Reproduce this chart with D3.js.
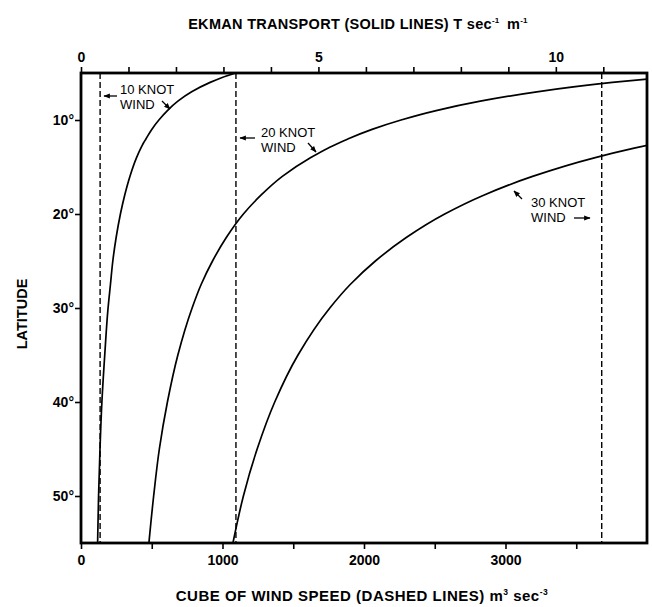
<!DOCTYPE html>
<html>
<head>
<meta charset="utf-8">
<script src="https://cdn.jsdelivr.net/npm/d3@7"></script>
<style>
  body { margin: 0; background: #fff; }
  svg { display: block; }
  text { font-family: "Liberation Sans", Arial, Helvetica, sans-serif; fill: #000; }
</style>
</head>
<body>
<svg id="chart" width="652" height="607"></svg>
<script>
// ---- data ----
const latitudes   = [5, 5.5, 6, 7, 8, 9, 10, 11, 12, 12.5, 13, 14, 16, 18, 20, 22.5, 25, 27.5, 30, 35, 40, 45, 50, 55];
const transport10 = [3.26, 2.96, 2.72, 2.33, 2.04, 1.82, 1.64, 1.49, 1.37, 1.31, 1.26, 1.17, 1.03, 0.92, 0.83, 0.74, 0.67, 0.62, 0.57, 0.50, 0.44, 0.40, 0.37, 0.35];
const transport20 = [null, 12.21, 11.19, 9.60, 8.41, 7.48, 6.74, 6.13, 5.63, 5.41, 5.20, 4.84, 4.24, 3.79, 3.42, 3.06, 2.77, 2.53, 2.34, 2.04, 1.82, 1.65, 1.53, 1.43];
const transport30 = [null, null, null, null, null, null, null, null, null, 12.10, 11.65, 10.83, 9.51, 8.48, 7.66, 6.85, 6.20, 5.67, 5.24, 4.57, 4.08, 3.71, 3.42, 3.20];
const windCubes   = [135, 1095, 3680];          // 10, 20, 30 knot winds (m^3 sec^-3)
const latTicks    = [10, 20, 30, 40, 50];
const topTicks    = [0, 1, 2, 3, 4, 5, 6, 7, 8, 9, 10, 11];
const topLabels   = [0, 5, 10];
const bottomTicks = [0, 500, 1000, 1500, 2000, 2500, 3000, 3500];
const bottomLabels = [0, 1000, 2000, 3000];

// ---- layout ----
const L = 81, R = 647, T = 73, B = 543;
const svg = d3.select("#chart");

const xTop = d3.scaleLinear().domain([0, 11.92]).range([L, R]);
const xBot = d3.scaleLinear().domain([0, 4000]).range([L, R]);
const y = d3.scaleLinear().domain([5, 55]).range([T, B]);

const defs = svg.append("defs");
defs.append("clipPath").attr("id", "plotclip")
  .append("rect").attr("x", L).attr("y", T).attr("width", R - L).attr("height", B - T);
defs.append("marker")
  .attr("id", "ah").attr("viewBox", "0 0 10 10").attr("refX", 9).attr("refY", 5)
  .attr("markerWidth", 5).attr("markerHeight", 5).attr("orient", "auto")
  .append("path").attr("d", "M0,1 L10,5 L0,9 Z").attr("fill", "#000");

// axes
const topAxis = d3.axisTop(xTop).tickValues(topTicks).tickSize(6).tickPadding(5)
  .tickFormat(d => topLabels.includes(d) ? d : "");
const gTop = svg.append("g").attr("transform", `translate(0,${T})`).call(topAxis);

const botAxis = d3.axisBottom(xBot).tickValues(bottomTicks).tickSize(6).tickPadding(6)
  .tickFormat(d => bottomLabels.includes(d) ? d : "");
const gBot = svg.append("g").attr("transform", `translate(0,${B})`).call(botAxis);

const leftAxis = d3.axisLeft(y).tickValues(latTicks).tickSize(6).tickPadding(1)
  .tickFormat(d => d + "°");
const gLeft = svg.append("g").attr("transform", `translate(${L},0)`).call(leftAxis);

[gTop, gBot, gLeft].forEach(g => {
  g.select(".domain").remove();
  g.selectAll(".tick line").attr("stroke", "#000").attr("stroke-width", 1.6);
  g.selectAll(".tick text").attr("font-size", 14).attr("font-weight", "bold")
    .attr("font-family", "'Liberation Sans', Arial, sans-serif");
});

// frame
svg.append("rect").attr("x", L).attr("y", T).attr("width", R - L).attr("height", B - T)
  .attr("fill", "none").attr("stroke", "#000").attr("stroke-width", 2.8);

// dashed lines (cube of wind speed)
svg.append("g").selectAll("line").data(windCubes).join("line")
  .attr("x1", d => xBot(d)).attr("x2", d => xBot(d))
  .attr("y1", T).attr("y2", B)
  .attr("stroke", "#000").attr("stroke-width", 1.4).attr("stroke-dasharray", "6,3");

// solid curves (Ekman transport)
const line = d3.line()
  .defined(d => d[1] != null)
  .x(d => xTop(d[1])).y(d => y(d[0]))
  .curve(d3.curveMonotoneY);
const curves = [transport10, transport20, transport30];
svg.append("g").attr("clip-path", "url(#plotclip)")
  .selectAll("path").data(curves).join("path")
  .attr("d", vals => line(latitudes.map((lat, i) => [lat, vals[i]])))
  .attr("fill", "none").attr("stroke", "#000").attr("stroke-width", 1.7);

// axis titles
const topTitle = svg.append("text").attr("x", 358).attr("y", 29).attr("text-anchor", "middle")
  .attr("font-size", 14.5).attr("font-weight", "bold").attr("letter-spacing", 0.3);
topTitle.append("tspan").text("EKMAN TRANSPORT (SOLID LINES) T sec");
topTitle.append("tspan").text("-1").attr("font-size", 8).attr("dy", -6);
topTitle.append("tspan").text(" m").attr("dy", 6).attr("dx", 3);
topTitle.append("tspan").text("-1").attr("font-size", 8).attr("dy", -6);

const botTitle = svg.append("text").attr("x", 362).attr("y", 601).attr("text-anchor", "middle")
  .attr("font-size", 15).attr("font-weight", "bold").attr("letter-spacing", 0.5);
botTitle.append("tspan").text("CUBE OF WIND SPEED (DASHED LINES) m");
botTitle.append("tspan").text("3").attr("font-size", 8.5).attr("dy", -6);
botTitle.append("tspan").text(" sec").attr("dy", 6);
botTitle.append("tspan").text("-3").attr("font-size", 8.5).attr("dy", -6);

svg.append("text").attr("transform", `translate(27,${(T + B) / 2 + 6}) rotate(-90)`)
  .attr("text-anchor", "middle").attr("font-size", 14.5).attr("font-weight", "bold")
  .text("LATITUDE");

// annotations
function label(x, yy, lines) {
  const t = svg.append("text").attr("font-size", 13);
  lines.forEach((s, i) => t.append("tspan").attr("x", x).attr("y", yy + i * 15).text(s));
}
function arrow(x1, y1, x2, y2) {
  svg.append("line").attr("x1", x1).attr("y1", y1).attr("x2", x2).attr("y2", y2)
    .attr("stroke", "#000").attr("stroke-width", 1.3).attr("marker-end", "url(#ah)");
}
label(120, 94, ["10 KNOT", "WIND"]);
arrow(117, 96, 104, 96);
arrow(162, 101, 170, 109);

label(261, 137, ["20 KNOT", "WIND"]);
arrow(255, 138, 240, 138);
arrow(308, 143, 316, 152);

label(531, 207, ["30 KNOT", "WIND"]);
arrow(522, 199, 514, 191);
arrow(574, 218, 590, 218);
</script>
</body>
</html>
